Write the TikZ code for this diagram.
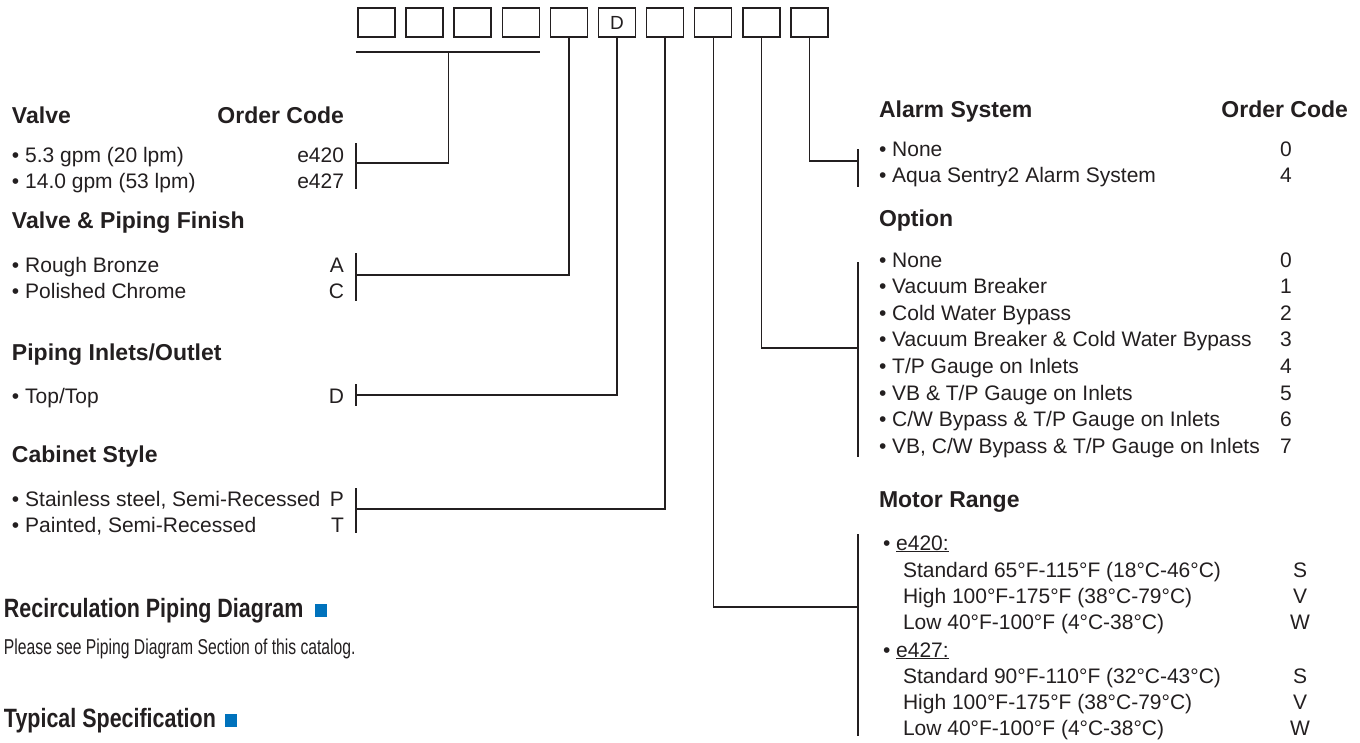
\documentclass[tikz,border=0pt]{standalone}
\usepackage{fontspec}
\setmainfont{Liberation Sans}
\newfontfamily\narrowfont[FakeStretch=0.73]{Liberation Sans}
\newfontfamily\titlefont[FakeStretch=0.81]{Liberation Sans}
\definecolor{ink}{HTML}{231F20}
\definecolor{catblue}{HTML}{0072BC}

\tikzset{
  codebox/.style={draw=ink,line width=1.5pt,minimum width=37pt,minimum height=29pt,
    inner sep=0pt,font=\fontsize{19}{21}\selectfont},
  wire/.style={draw=ink,line width=1.3pt},
  item/.style={anchor=base west,font=\fontsize{21}{25}\selectfont},
  code/.style={anchor=base east,font=\fontsize{21}{25}\selectfont},
  ccode/.style={anchor=base,font=\fontsize{21}{25}\selectfont},
  head/.style={anchor=base west,font=\fontsize{23}{27}\selectfont\bfseries},
  title/.style={anchor=base west,font=\titlefont\fontsize{26.5}{30}\selectfont\bfseries},
}

\begin{document}
\begin{tikzpicture}[x=1pt,y=-1pt,every node/.style={inner sep=0pt,outer sep=0pt,text=ink}]
\useasboundingbox (0,0) rectangle (1360,742);

% order code boxes
\foreach \i in {1,...,10}
  \node[codebox] (b\i) at ({376.5+48.1*(\i-1)},22.5) {};
\node[font=\fontsize{19}{21}\selectfont] at (b6) {D};

% left column
\node[head] (valve) at (12,123) {Valve};
\node[anchor=base east,font=\fontsize{23}{27}\selectfont\bfseries] (oc1) at (344,123) {Order Code};
\node[item] (v1) at (12,162) {• 5.3 gpm (20 lpm)};
\node[code] (v1c) at (344,162) {e420};
\node[item] (v2) at (12,188) {• 14.0 gpm (53 lpm)};
\node[code] (v2c) at (344,188) {e427};

\node[head] (finish) at (12,228) {Valve \& Piping Finish};
\node[item] (f1) at (12,272) {• Rough Bronze};
\node[code] (f1c) at (344,272) {A};
\node[item] (f2) at (12,298) {• Polished Chrome};
\node[code] (f2c) at (344,298) {C};

\node[head] (inlets) at (12,360) {Piping Inlets/Outlet};
\node[item] (p1) at (12,403) {• Top/Top};
\node[code] (p1c) at (344,403) {D};

\node[head] (cabinet) at (12,462) {Cabinet Style};
\node[item] (c1) at (12,506) {• Stainless steel, Semi-Recessed};
\node[code] (c1c) at (344,506) {P};
\node[item] (c2) at (12,532) {• Painted, Semi-Recessed};
\node[code] (c2c) at (344,532) {T};

\node[title] (recirc) at (4,617) {Recirculation Piping Diagram};
\fill[catblue] (315,604) rectangle (327,617);
\node[anchor=base west,font=\narrowfont\fontsize{21.5}{25}\selectfont] (see) at (4,654)
  {Please see Piping Diagram Section of this catalog.};
\node[title] (typspec) at (4,727) {Typical Specification};
\fill[catblue] (225,714) rectangle (237,727);

% right column
\node[head] (alarm) at (879,117) {Alarm System};
\node[anchor=base east,font=\fontsize{23}{27}\selectfont\bfseries] (oc2) at (1348,117) {Order Code};
\node[item] (a1) at (879,156) {• None};
\node[ccode] at (1286,156) {0};
\node[item] (a2) at (879,182) {• Aqua Sentry2 Alarm System};
\node[ccode] at (1286,182) {4};

\node[head] (option) at (879,226) {Option};
\foreach \t [count=\k from 0] in {None,Vacuum Breaker,Cold Water Bypass,
    Vacuum Breaker \& Cold Water Bypass,T/P Gauge on Inlets,VB \& T/P Gauge on Inlets,
    C/W Bypass \& T/P Gauge on Inlets,VB{,} C/W Bypass \& T/P Gauge on Inlets}{
  \node[item] (o\k) at (879,{267+26.6*\k}) {• \t};
  \node[ccode] at (1286,{267+26.6*\k}) {\k};
}

\node[head] (motor) at (879,507) {Motor Range};
\node[item] (m0) at (883,550) {• \underline{e420:}};
\node[item] (m1) at (903,577) {Standard 65°F-115°F (18°C-46°C)};
\node[ccode] at (1300,577) {S};
\node[item] (m2) at (903,603) {High 100°F-175°F (38°C-79°C)};
\node[ccode] at (1300,603) {V};
\node[item] (m3) at (903,629) {Low 40°F-100°F (4°C-38°C)};
\node[ccode] at (1300,629) {W};
\node[item] (m4) at (883,657) {• \underline{e427:}};
\node[item] (m5) at (903,683) {Standard 90°F-110°F (32°C-43°C)};
\node[ccode] at (1300,683) {S};
\node[item] (m6) at (903,709) {High 100°F-175°F (38°C-79°C)};
\node[ccode] at (1300,709) {V};
\node[item] (m7) at (903,735) {Low 40°F-100°F (4°C-38°C)};
\node[ccode] at (1300,735) {W};

% brackets
\coordinate (valveK) at (356,163);
\coordinate (finK) at (356,275);
\coordinate (inK) at (356,395);
\coordinate (cabK) at (356,509);
\coordinate (alarmK) at (858,161);
\coordinate (optK) at (858,348);
\coordinate (motK) at (858,607);
\draw[wire] (356,143) -- (356,189);
\draw[wire] (356,253) -- (356,301);
\draw[wire] (356,384) -- (356,406);
\draw[wire] (356,488) -- (356,533);
\draw[wire] (858,149) -- (858,187);
\draw[wire] (858,262) -- (858,457);
\draw[wire] (858,534) -- (858,736);

% connectors
\coordinate (ulL) at (356,52);
\coordinate (ulR) at (540,52);
\coordinate (ulM) at (448.6,52);
\draw[wire] (ulL) -- (ulR);
\draw[wire] (ulM) |- (valveK);
\draw[wire] (b5.south) |- (finK);
\draw[wire] (b6.south) |- (inK);
\draw[wire] (b7.south) |- (cabK);
\draw[wire] (b8.south) |- (motK);
\draw[wire] (b9.south) |- (optK);
\draw[wire] (b10.south) |- (alarmK);

\end{tikzpicture}
\end{document}
